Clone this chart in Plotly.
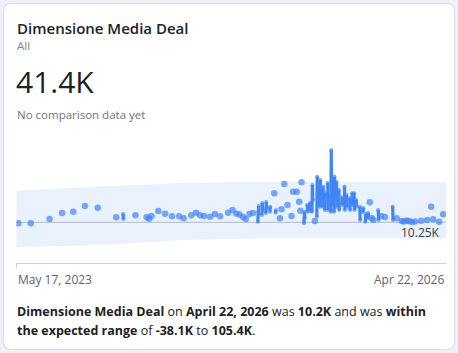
import plotly.graph_objects as go

# ---------------- data ----------------
# runs of consecutive days (each inner list = one connected run)
run_dates = [
    ["2023-05-22"], ["2023-06-22"], ["2023-08-08"], ["2023-09-08"], ["2023-10-06"],
    ["2023-11-04"], ["2023-12-06"], ["2024-01-21"], ["2024-02-07", "2024-02-08"],
    ["2024-03-09"], ["2024-04-06"], ["2024-04-12"], ["2024-04-18"], ["2024-05-05"],
    ["2024-05-22"], ["2024-06-08"], ["2024-06-26"], ["2024-07-07"], ["2024-07-26"],
    ["2024-08-07"], ["2024-08-17"], ["2024-08-27"], ["2024-09-11"], ["2024-09-23"],
    ["2024-10-06"], ["2024-10-26"], ["2024-11-06"], ["2024-11-15"], ["2024-11-23"],
    ["2024-12-02"], ["2024-12-09"], ["2024-12-18"], ["2024-12-27"],
    ["2025-01-08", "2025-01-09", "2025-01-10"],
    ["2025-01-18", "2025-01-19", "2025-01-20"],
    ["2025-01-28", "2025-01-29", "2025-01-30"],
    ["2025-02-07", "2025-02-08"], ["2025-02-18"], ["2025-02-21", "2025-02-22"],
    ["2025-03-04"], ["2025-03-08"], ["2025-03-15"], ["2025-03-23"], ["2025-04-02"],
    ["2025-04-06"], ["2025-04-15"], ["2025-04-21"], ["2025-04-24"], ["2025-04-27"],
    ["2025-05-03", "2025-05-04", "2025-05-05"],
    ["2025-05-11", "2025-05-12"],
    ["2025-05-17", "2025-05-18", "2025-05-19"],
    ["2025-05-23", "2025-05-24", "2025-05-25"],
    ["2025-05-30"],
    ["2025-06-04", "2025-06-05", "2025-06-06"],
    ["2025-06-12", "2025-06-13"],
    ["2025-06-18", "2025-06-19", "2025-06-20"],
    ["2025-06-24", "2025-06-25"],
    ["2025-07-01", "2025-07-02", "2025-07-03"],
    ["2025-07-09", "2025-07-10", "2025-07-11"],
    ["2025-07-17", "2025-07-18", "2025-07-19"],
    ["2025-07-23", "2025-07-24"],
    ["2025-07-29", "2025-07-30"],
    ["2025-08-06", "2025-08-07"],
    ["2025-08-12", "2025-08-13"],
    ["2025-08-17", "2025-08-18"],
    ["2025-08-25", "2025-08-26"],
    ["2025-08-31", "2025-09-01"],
    ["2025-09-05", "2025-09-06"],
    ["2025-09-10", "2025-09-11"],
    ["2025-09-19", "2025-09-20"],
    ["2025-09-27", "2025-09-28"],
    ["2025-10-03", "2025-10-04"],
    ["2025-10-10", "2025-10-11"],
    ["2025-10-14"], ["2025-10-19"], ["2025-10-23"],
    ["2025-11-04", "2025-11-05"], ["2025-11-11"], ["2025-11-21"],
    ["2025-12-10", "2025-12-11"], ["2025-12-20"],
    ["2026-01-02"], ["2026-01-07"], ["2026-01-14"], ["2026-01-20"], ["2026-01-27"],
    ["2026-02-04"], ["2026-02-19"], ["2026-03-06"], ["2026-03-16"], ["2026-03-21"],
    ["2026-04-05"], ["2026-04-15"],
]
run_values = [
    [7.75], [7.75], [18.5], [33.5], [36.75],
    [51.0], [46.75], [22.75], [31.0, 18.5],
    [27.75], [22.75], [19.25], [26.0], [38.5],
    [31.75], [25.25], [25.25], [20.25], [27.75],
    [34.25], [27.75], [26.0], [24.25], [31.0],
    [25.25], [34.25], [41.0], [32.25], [29.75],
    [23.5], [18.5], [31.0], [33.5],
    [11.75, 36.0, 51.0],
    [28.5, 58.5, 41.0],
    [33.5, 61.0, 46.0],
    [36.75, 49.25], [82.75], [34.25, 41.0],
    [20.25], [42.75], [106.0], [53.5], [26.0],
    [86.75], [86.75], [61.75], [39.25], [110.25],
    [7.75, 36.75, 21.0],
    [53.5, 36.75],
    [46.0, 58.5, 38.5],
    [36.75, 103.5, 66.0],
    [13.5],
    [24.25, 124.25, 53.5],
    [49.25, 116.0],
    [86.75, 49.25, 99.25],
    [41.0, 82.75],
    [108.5, 41.0, 78.5],
    [36.75, 191.0, 53.5],
    [36.75, 124.25, 91.0],
    [111.75, 49.25],
    [91.0, 41.0],
    [53.5, 73.5],
    [99.25, 41.0],
    [78.5, 49.25],
    [70.25, 41.0],
    [82.75, 53.5],
    [82.75, 41.0],
    [66.0, 49.25],
    [49.25, 16.0],
    [36.0, 46.0],
    [11.75, 31.0],
    [33.5, 21.0],
    [60.25], [21.0], [16.0],
    [41.0, 16.0], [26.0], [23.5],
    [49.25, 16.0], [20.25],
    [13.5], [12.25], [14.75], [13.5], [11.0],
    [12.25], [14.25], [16.0], [49.25], [17.75],
    [11.75], [30.25],
]

# expected range band (K)
band_dates = ["2023-05-17", "2023-12-11", "2024-07-10", "2025-01-13", "2026-04-22"]
band_upper = [89.25, 99.75, 108.5, 111.75, 111.75]
band_lower = [-51.5, -46.5, -34.0, -29.75, -29.75]

latest_value = 10.25
latest_label = "10.25K"
x_start, x_end = "2023-05-17", "2026-04-22"
x_tick_labels = ["May 17, 2023", "Apr 22, 2026"]

# ---------------- build ----------------
W, H = 458, 353
BLUE = "#4285F4"

xs, ys, sizes = [], [], []
for d, v in zip(run_dates, run_values):
    single = len(d) == 1
    for di, vi in zip(d, v):
        xs.append(di)
        ys.append(vi)
        sizes.append(6.5 if single else 4)
    xs.append(None)
    ys.append(None)
    sizes.append(0)

fig = go.Figure()
fig.add_trace(go.Scatter(x=band_dates, y=band_lower, mode="lines",
                         line=dict(width=0), hoverinfo="skip", showlegend=False))
fig.add_trace(go.Scatter(x=band_dates, y=band_upper, mode="lines", fill="tonexty",
                         fillcolor="#e9f1fd", line=dict(width=0),
                         hoverinfo="skip", showlegend=False))
fig.add_trace(go.Scatter(x=[x_start, x_end], y=[latest_value, latest_value], mode="lines",
                         line=dict(color="#b9bcc2", width=1), hoverinfo="skip",
                         showlegend=False))
fig.add_trace(go.Scatter(x=xs, y=ys, mode="lines+markers", connectgaps=False,
                         line=dict(color=BLUE, width=3.2),
                         marker=dict(color=BLUE, size=sizes, line=dict(width=0)),
                         showlegend=False))

def px(x):
    return x / W

def py(y):
    return (H - y) / H

# card with rounded corners
x0, x1, yt, yb, r = 3.5, 454.5, 3.5, 349.5, 8
rx, ry = r / W, r / H
X0, X1, YT, YB = px(x0), px(x1), py(yt), py(yb)
path = (f"M {X0+rx},{YT} L {X1-rx},{YT} Q {X1},{YT} {X1},{YT-ry} "
        f"L {X1},{YB+ry} Q {X1},{YB} {X1-rx},{YB} L {X0+rx},{YB} "
        f"Q {X0},{YB} {X0},{YB+ry} L {X0},{YT-ry} Q {X0},{YT} {X0+rx},{YT} Z")
shapes = [dict(type="path", path=path, xref="paper", yref="paper",
               fillcolor="white", line=dict(color="#d6d9e0", width=1), layer="below")]

FONT = "Open Sans, Noto Sans, sans-serif"
ann = []
def text(x, y, s, size, color, xanchor="left", weight="normal"):
    ann.append(dict(x=px(x), y=py(y), xref="paper", yref="paper", text=s,
                    showarrow=False, xanchor=xanchor, yanchor="middle",
                    font=dict(size=size, color=color, family=FONT, weight=weight)))

text(15, 28, "Dimensione Media Deal", 15, "#202124", weight=600)
text(15, 46, "All", 11.5, "#80868b")
text(14, 81, "41.4K", 30, "#202124")
text(15, 115, "No comparison data yet", 11.5, "#70757a")
text(442, 232.5, latest_label, 12, "#3c4043", xanchor="right")
text(15, 311, "<b>Dimensione Media Deal</b> on <b>April 22, 2026</b> was <b>10.2K</b> and was <b>within</b>",
     12.5, "#202124")
text(15, 330, "<b>the expected range</b> of <b>-38.1K</b> to <b>105.4K</b>.", 12.5, "#202124")

# date labels bound to the x axis
ann.append(dict(x=x_start, y=py(279), xref="x", yref="paper", text=x_tick_labels[0],
                showarrow=False, xanchor="left", yanchor="middle",
                font=dict(size=12, color="#5f6368", family=FONT)))
ann.append(dict(x=x_end, y=py(279), xref="x", yref="paper", text=x_tick_labels[1],
                showarrow=False, xanchor="right", yanchor="middle",
                font=dict(size=12, color="#5f6368", family=FONT)))

def yval(pix):
    return 566 - 2.5 * pix

fig.update_layout(
    width=W, height=H, margin=dict(l=0, r=0, t=0, b=0),
    paper_bgcolor="#eff1f7", plot_bgcolor="rgba(0,0,0,0)",
    shapes=shapes, annotations=ann, showlegend=False,
    xaxis=dict(domain=[px(16.3), px(446)], range=[x_start, x_end], type="date",
               showgrid=False, zeroline=False, showline=True, linecolor="#cfd2d8",
               linewidth=1, ticks="outside", ticklen=4, tickcolor="#cfd2d8",
               tickvals=[x_start], showticklabels=False, fixedrange=True),
    yaxis=dict(domain=[py(263), py(140)], range=[yval(263), yval(140)],
               visible=False, fixedrange=True),
)

fig.write_html("out.html")
